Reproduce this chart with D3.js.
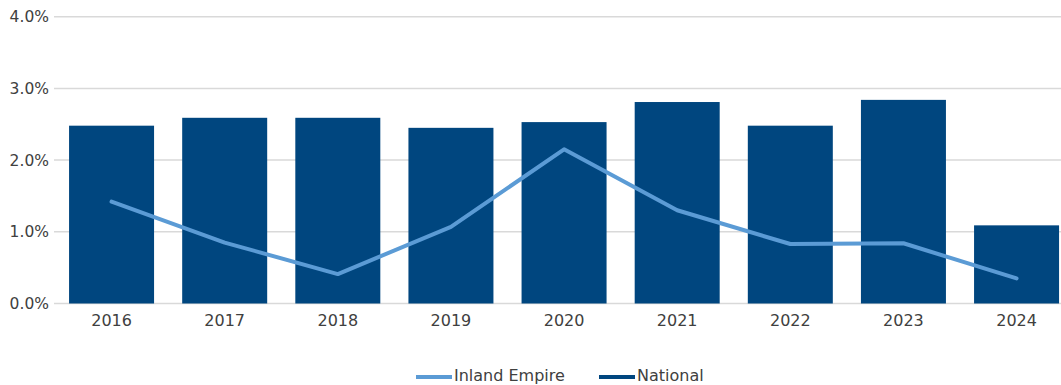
<!DOCTYPE html>
<html>
<head>
<meta charset="utf-8">
<script src="https://cdn.jsdelivr.net/npm/d3@7"></script>
<style>
  html, body { margin: 0; padding: 0; background: #fff; }
  svg { display: block; }
  text { font-family: "DejaVu Sans", sans-serif; fill: #404040; }
</style>
</head>
<body>
<svg id="chart" width="1061" height="385"></svg>
<script>
const years = ["2016", "2017", "2018", "2019", "2020", "2021", "2022", "2023", "2024"];
const national = [2.48, 2.59, 2.59, 2.45, 2.53, 2.81, 2.48, 2.84, 1.09];
const inlandEmpire = [1.42, 0.85, 0.41, 1.07, 2.15, 1.30, 0.83, 0.84, 0.35];
const yTicks = [0, 1, 2, 3, 4];
const seriesNames = ["Inland Empire", "National"];

const svg = d3.select("#chart");
const W = 1061, H = 385;
const plotLeft = 55, plotTop = 16.7, plotBottom = 303.5;

const x = d3.scaleBand()
  .domain(years)
  .range([plotLeft, plotLeft + 9 * 113.125])
  .paddingInner(0.2486)
  .paddingOuter(0.1243);

const y = d3.scaleLinear().domain([0, 4]).range([plotBottom, plotTop]);

// gridlines
svg.append("g").selectAll("line").data(yTicks).join("line")
  .attr("x1", 54).attr("x2", W)
  .attr("y1", d => y(d)).attr("y2", d => y(d))
  .attr("stroke", "#d9d9d9").attr("stroke-width", 1.5);

// y axis labels
const yAxis = d3.axisLeft(y).tickValues(yTicks).tickFormat(d => d.toFixed(1) + "%").tickSize(0).tickPadding(0);
const gy = svg.append("g").attr("transform", "translate(49,0)").call(yAxis);
gy.select(".domain").remove();
gy.selectAll("text").attr("font-size", 15.5).attr("fill", "#404040").attr("font-family", "DejaVu Sans, sans-serif");

// bars
svg.append("g").selectAll("rect").data(years).join("rect")
  .attr("x", d => x(d))
  .attr("width", x.bandwidth())
  .attr("y", (d, i) => y(national[i]))
  .attr("height", (d, i) => y(0) - y(national[i]))
  .attr("fill", "#00467f");

// x axis labels
const xAxis = d3.axisBottom(x).tickSize(0).tickPadding(0);
const gx = svg.append("g").attr("transform", "translate(0,314.5)").call(xAxis);
gx.select(".domain").remove();
gx.selectAll("text").attr("font-size", 16).attr("fill", "#404040").attr("font-family", "DejaVu Sans, sans-serif");

// line
const line = d3.line()
  .x((d, i) => x(years[i]) + x.bandwidth() / 2)
  .y(d => y(d));
svg.append("path").datum(inlandEmpire)
  .attr("d", line)
  .attr("fill", "none")
  .attr("stroke", "#5b9bd5")
  .attr("stroke-width", 4)
  .attr("stroke-linejoin", "round")
  .attr("stroke-linecap", "round");

// legend
const legendItems = [
  { name: seriesNames[0], color: "#5b9bd5", x: 416 },
  { name: seriesNames[1], color: "#00467f", x: 599 }
];
const lg = svg.append("g").selectAll("g").data(legendItems).join("g")
  .attr("transform", d => `translate(${d.x},0)`);
lg.append("line").attr("x1", 0).attr("x2", 36).attr("y1", 377).attr("y2", 377)
  .attr("stroke", d => d.color).attr("stroke-width", 4);
lg.append("text").attr("x", 38).attr("y", 380.5).attr("font-size", 16).text(d => d.name);
</script>
</body>
</html>
